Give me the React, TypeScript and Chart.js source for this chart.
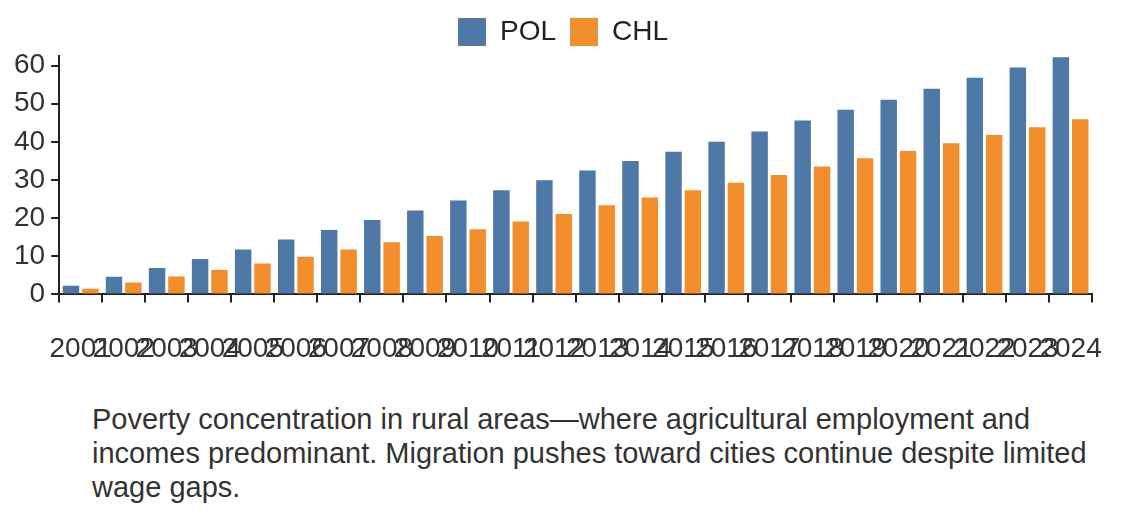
import React, { useEffect, useRef } from "react";
import { Chart, registerables } from "chart.js";
Chart.register(...registerables);

const years = ["2001","2002","2003","2004","2005","2006","2007","2008","2009","2010","2011","2012","2013","2014","2015","2016","2017","2018","2019","2020","2021","2022","2023","2024"];
const pol = [2.3,4.6,6.9,9.3,11.8,14.4,16.9,19.5,22,24.6,27.3,29.9,32.5,35,37.4,40,42.7,45.6,48.4,51,53.9,56.8,59.5,62.2];
const chl = [1.5,3.1,4.7,6.4,8.1,9.9,11.8,13.7,15.3,17.1,19.1,21.1,23.4,25.4,27.3,29.3,31.3,33.5,35.7,37.6,39.6,41.8,43.8,45.9];
const caption = "Poverty concentration in rural areas\u2014where agricultural employment and incomes predominant. Migration pushes toward cities continue despite limited wage gaps.";

export default function App() {
  const ref = useRef<HTMLCanvasElement>(null);
  useEffect(() => {
    const font = { family: "Liberation Sans, Arial, sans-serif", size: 28 };
    const c = new Chart(ref.current!, {
      type: "bar",
      data: {
        labels: years,
        datasets: [
          { label: "POL", data: pol, backgroundColor: "#4e79a7", categoryPercentage: 0.9, barPercentage: 0.85 },
          { label: "CHL", data: chl, backgroundColor: "#f28e2b", categoryPercentage: 0.9, barPercentage: 0.85 },
        ],
      },
      options: {
        animation: false,
        responsive: true,
        maintainAspectRatio: false,
        layout: { padding: { left: 0, right: 14, top: 0 } },
        plugins: {
          legend: { labels: { font, color: "#222", boxWidth: 28, boxHeight: 28, padding: 14 } },
          tooltip: { enabled: false },
        },
        scales: {
          x: {
            offset: true,
            grid: { display: true, drawOnChartArea: false, offset: true, tickLength: 8, color: "#222", lineWidth: 2 },
            border: { color: "#222", width: 2 },
            ticks: { font, color: "#333", autoSkip: false, maxRotation: 0, minRotation: 0, padding: 30 },
          },
          y: {
            min: 0, max: 62.5,
            grid: { display: true, drawOnChartArea: false, tickLength: 8, color: "#222", lineWidth: 2 },
            border: { color: "#222", width: 2 },
            ticks: { font, color: "#333", stepSize: 10, padding: 6 },
            afterBuildTicks: (s: any) => { s.ticks = [0,10,20,30,40,50,60].map(v => ({ value: v })); },
          },
        },
      },
    });
    return () => c.destroy();
  }, []);
  return (
    <div>
      <div style={{ height: 392, position: "relative", marginTop: -4 }}><canvas ref={ref} /></div>
      <div style={{ fontFamily: "Liberation Sans, Arial, sans-serif", fontSize: 29, lineHeight: "34px", color: "#333", padding: "6px 30px 0 84px" }}>{caption}</div>
    </div>
  );
}
